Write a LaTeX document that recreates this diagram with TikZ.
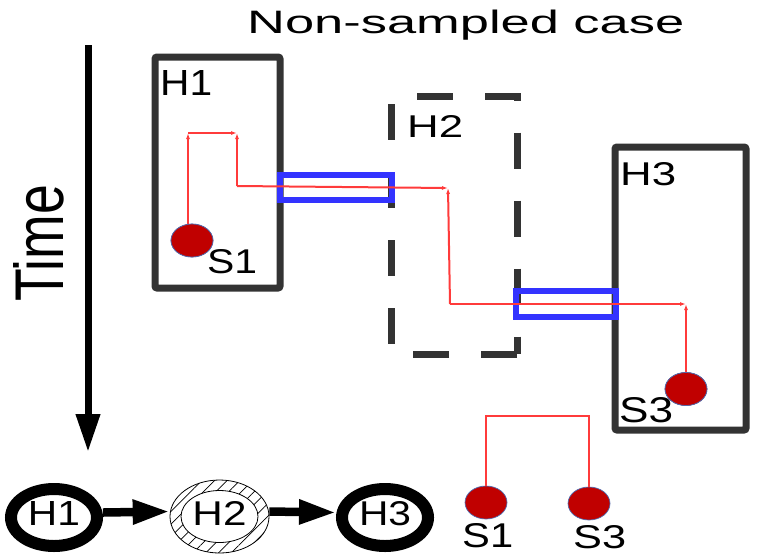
\documentclass[tikz,border=0pt]{standalone}
\usepackage{fontspec}
\setmainfont{Liberation Sans}
\usetikzlibrary{arrows.meta,shapes.geometric,patterns.meta}
\definecolor{boxgray}{RGB}{51,51,51}
\definecolor{linkblue}{RGB}{51,51,255}
\definecolor{routered}{RGB}{255,59,59}
\definecolor{sred}{RGB}{192,0,0}
\definecolor{sborder}{RGB}{79,107,175}
\newcommand{\fitt}[3]{\resizebox{#1pt}{#2pt}{#3}}
\begin{document}
\begin{tikzpicture}[x=1pt,y=-1pt,
  hostbox/.style={draw=boxgray, line width=7pt, inner sep=0pt, rounded corners=2pt},
  linkbox/.style={draw=linkblue, line width=6pt, inner sep=0pt},
  station/.style={ellipse, fill=sred, draw=sborder, line width=0.7pt, minimum width=42pt, minimum height=33pt, inner sep=0pt},
  route/.style={draw=routered, line width=2pt, -{Latex[length=6pt,width=4pt]}},
  routeplain/.style={draw=routered, line width=2pt},
  lbl/.style={inner sep=0pt, anchor=base west},
  hostring/.style={ellipse, draw=black, line width=12pt, minimum width=86pt, minimum height=57pt, inner sep=0pt},
  bigarrow/.style={line width=8.5pt, -{Triangle[length=37pt,width=23pt]}}]
\useasboundingbox (0,0) rectangle (759,555);

% title and time axis
\node[lbl] (title) at (247,33) {\fitt{437}{23.5}{Non-sampled case}};
\coordinate (t0) at (88,45);
\coordinate (t1) at (88,452);
\draw[line width=7pt, -{Triangle[length=38pt,width=23pt]}] (t0) -- (t1);
\node[lbl, rotate=90] (time) at (63,302) {\fitt{117}{50}{Time}};

% host boxes
\node[hostbox, minimum width=125pt, minimum height=231pt] (H1box) at (217.5,172.5) {};
\node[inner sep=0pt, minimum width=125pt, minimum height=257pt] (H2box) at (454.5,225.5) {};
\draw[boxgray, line width=7pt, dash pattern=on 36pt off 32pt]
  (H2box.south east) -- (H2box.south west) -- (H2box.north west) -- (H2box.north east) -- cycle;
\node[hostbox, minimum width=131pt, minimum height=283pt] (H3box) at (680.5,288.5) {};

\node[lbl] (H1t) at (160,95) {\fitt{52}{25}{H1}};
\node[lbl] (H2t) at (407,137) {\fitt{56}{22}{H2}};
\node[lbl] (H3t) at (620,185) {\fitt{56}{23}{H3}};

% link boxes
\node[linkbox, minimum width=112pt, minimum height=25pt] (L1) at (336,187.5) {};
\node[linkbox, minimum width=100pt, minimum height=26pt] (L2) at (566,304) {};

% stations
\node[station] (S1) at (192,240.5) {};
\node[station] (S3) at (686,389) {};

% route
\coordinate (a1) at (188,133);
\coordinate (a2) at (237,133);
\coordinate (a3) at (237,186);
\coordinate (a4) at (448,188);
\coordinate (a5) at (450,304);
\coordinate (a6) at (686,304);
\draw[route] (S1.north -| a1) -- (a1);
\draw[route] (a1) -- (a2);
\draw[route] (a3) -- (a2);
\draw[route] (a3) -- (a4);
\draw[route] (a5) -- (a4);
\draw[route] (a5) -- (a6);
\draw[route] (S3.north) -- (a6);
\node[station] at (S1) {};
\node[station] at (S3) {};

\node[lbl] (S1t) at (207,273) {\fitt{50}{24}{S1}};
\node[lbl] (S3t) at (619,422) {\fitt{54}{25}{S3}};

% bottom tree
\node[station] (S1b) at (486,502.5) {};
\node[station] (S3b) at (589,503.5) {};
\coordinate (tj) at (537,416);
\draw[routeplain] (S1b.north) |- (tj) -| (S3b.north);
\node[lbl] (S1bt) at (462,547) {\fitt{51}{24}{S1}};
\node[lbl] (S3bt) at (573,548) {\fitt{53}{23}{S3}};

% bottom host chain
\node[hostring] (H1e) at (54,517.5) {};
\node[ellipse, minimum width=99pt, minimum height=73pt, inner sep=0pt, draw=black, line width=0.8pt,
      pattern={Lines[angle=45,distance=9pt,line width=0.7pt]}] (H2e) at (219.5,516.5) {};
\node[ellipse, minimum width=77pt, minimum height=52pt, inner sep=0pt, draw=black, line width=0.8pt, fill=white] (H2in) at (H2e) {};
\node[hostring] (H3e) at (385,517.5) {};

\node[inner sep=0pt, anchor=base] (H1et) at ([yshift=-7.5pt]H1e.center) {\fitt{52}{24}{H1}};
\node[inner sep=0pt, anchor=base] (H2et) at ([yshift=-8.5pt]H2e.center) {\fitt{54}{24}{H2}};
\node[inner sep=0pt, anchor=base] (H3et) at ([yshift=-7.5pt]H3e.center) {\fitt{52}{24}{H3}};

\draw[bigarrow] ([yshift=5pt]H1e.east) -- ([yshift=5pt]H2e.west);
\draw[bigarrow] ([yshift=5pt]H2e.east) -- ([yshift=5pt]H3e.west);
\end{tikzpicture}
\end{document}
